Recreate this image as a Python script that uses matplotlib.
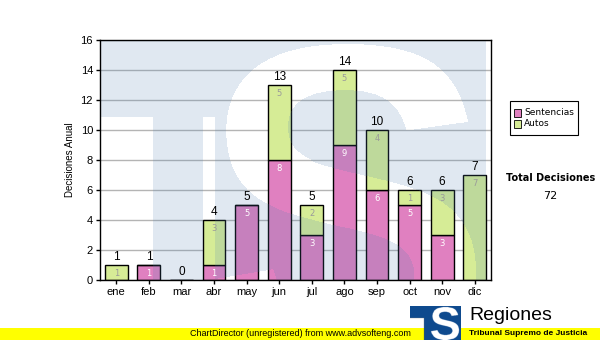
import numpy as np
import matplotlib
matplotlib.use("Agg")
import matplotlib.pyplot as plt
from matplotlib.patches import Rectangle
from matplotlib.textpath import TextPath
from matplotlib.font_manager import FontProperties
from matplotlib.transforms import Affine2D

# monthly decisions
meses = ["ene", "feb", "mar", "abr", "may", "jun", "jul", "ago", "sep", "oct", "nov", "dic"]
sentencias = [0, 1, 0, 1, 5, 8, 3, 9, 6, 5, 3, 0]
autos = [1, 0, 0, 3, 0, 5, 2, 5, 4, 1, 3, 7]
totales = [s + a for s, a in zip(sentencias, autos)]

PINK = "#e080c0"
GREEN = "#d6ec96"
W, H = 600, 340


def fx(x):
    return x / W


def fy(y):
    return 1 - y / H


S_PATH = TextPath((0, 0), "S", size=1, prop=FontProperties(family="Liberation Sans", weight="bold"))


def ts_mask(x0, y0, w, h, bar_y, stem_x, gap, s_box, right, ss=1):
    """Masks (rows top-down) of the TS logo on a pixel grid: blue part and S letter."""
    gx, gy = np.meshgrid(x0 + (np.arange(w * ss) + 0.5) / ss, y0 + (np.arange(h * ss) + 0.5) / ss)
    blue = gx < right
    blue &= ~((gx < stem_x) & (gy > bar_y))
    if gap:
        blue &= ~((gx > gap[0]) & (gx < gap[1]) & (gy > bar_y))
    ext = S_PATH.get_extents()
    sx0, sx1, sy0, sy1 = s_box
    tr = (Affine2D().translate(-ext.x0, -ext.y1)
          .scale((sx1 - sx0) / ext.width, -(sy1 - sy0) / ext.height)
          .translate(sx0, sy0))
    s_pix = tr.transform_path(S_PATH)
    inside = s_pix.contains_points(np.column_stack([gx.ravel(), gy.ravel()])).reshape(gx.shape)
    return blue & ~inside, inside


fig = plt.figure(figsize=(6, 3.4), dpi=100)
fig.patch.set_facecolor("white")

# plot area in pixel coords: x 100..491, y 40..280
L, R, T, B = 100, 491, 40, 280
ax = fig.add_axes([fx(L), fy(B), (R - L) / W, (B - T) / H])
ax.set_facecolor("white")

x = np.arange(len(meses))
ax.set_axisbelow(True)
ax.yaxis.grid(True, color="#b4b4b4", lw=1)
ax.bar(x, sentencias, width=0.7, color=PINK, edgecolor="black", lw=1, zorder=2)
ax.bar(x, autos, width=0.7, bottom=sentencias, color=GREEN, edgecolor="black", lw=1, zorder=2)

# value labels inside segments
for i in range(len(meses)):
    if sentencias[i]:
        ax.text(i, sentencias[i] - 0.25, str(sentencias[i]), ha="center", va="top",
                fontsize=6, color="white", family="DejaVu Sans", zorder=4)
    if autos[i]:
        ax.text(i, sentencias[i] + autos[i] - 0.25, str(autos[i]), ha="center", va="top",
                fontsize=6, color="#9a9a9a", family="DejaVu Sans", zorder=4)
    ax.text(i, totales[i] + 0.12, str(totales[i]), ha="center", va="bottom",
            fontsize=8.5, color="black", family="Liberation Sans", zorder=4)

# watermark laid over the plot area
wm, _ = ts_mask(L, T, R - L, B - T, bar_y=118, stem_x=153, gap=(203, 215),
                s_box=(212, 476, 45, 365), right=486)
overlay = np.zeros(wm.shape + (4,))
overlay[..., :3] = np.array([80, 130, 180]) / 255
overlay[..., 3] = np.where(wm, 0.18, 0.0)
ax.imshow(overlay, extent=(0, 1, 0, 1), transform=ax.transAxes, zorder=3,
          aspect="auto", interpolation="nearest")

ax.set_xlim(-0.5, 11.5)
ax.set_ylim(0, 16)
ax.set_yticks(np.arange(0, 17, 2))
ax.set_xticks(x)
ax.set_xticklabels(meses)
ax.tick_params(axis="both", direction="out", length=3, width=1, labelsize=8, pad=2)
for lab in ax.get_xticklabels() + ax.get_yticklabels():
    lab.set_family("Liberation Sans")
for sp in ax.spines.values():
    sp.set_color("black")
    sp.set_linewidth(1)
    sp.set_zorder(5)
ax.set_ylabel("Decisiones Anual", fontsize=7, family="Liberation Sans", labelpad=4)

# legend box
fig.patches.append(Rectangle((fx(510), fy(135)), 68 / W, 34 / H, transform=fig.transFigure,
                             facecolor="white", edgecolor="black", lw=0.8))
for yy, col, name in [(113, PINK, "Sentencias"), (124, GREEN, "Autos")]:
    fig.patches.append(Rectangle((fx(514), fy(yy + 3.5)), 7 / W, 7 / H, transform=fig.transFigure,
                                 facecolor=col, edgecolor="black", lw=0.6))
    fig.text(fx(524), fy(yy), name, fontsize=6.5, family="DejaVu Sans", va="center", ha="left")

fig.text(fx(551), fy(178), "Total Decisiones", fontsize=7, family="DejaVu Sans",
         weight="bold", ha="center", va="center")
fig.text(fx(550), fy(196), "72", fontsize=8, family="DejaVu Sans", ha="center", va="center")

# footer band
fig.patches.append(Rectangle((0, 0), 1, 12 / H, transform=fig.transFigure,
                             facecolor="#ffff00", edgecolor="none"))
fig.text(fx(300), fy(334), "ChartDirector (unregistered) from www.advsofteng.com",
         fontsize=6.5, family="Liberation Sans", ha="center", va="center")

# small logo at the bottom right, drawn above the footer band
lx, ly, lw_, lh = 410, 306, 51, 34
logo_blue, logo_s = ts_mask(lx, ly, lw_, lh, bar_y=318, stem_x=424, gap=None,
                            s_box=(431, 459, 307, 340), right=lx + lw_, ss=4)
logo_img = np.zeros(logo_blue.shape + (4,))
logo_img[logo_blue] = np.array([14, 74, 142, 255]) / 255
logo_img[logo_s] = 1.0
lax = fig.add_axes([fx(lx), fy(ly + lh), lw_ / W, lh / H])
lax.imshow(logo_img, aspect="auto", interpolation="antialiased")
lax.set_axis_off()
lax.set_zorder(3)

fig.text(fx(469), fy(316), "Regiones", fontsize=14, family="Liberation Sans",
         ha="left", va="center")
fig.text(fx(469), fy(330), "Tribunal Supremo de Justicia", fontsize=6, family="Liberation Sans",
         ha="left", va="top", weight="bold")

fig.savefig("out.png", dpi=100)
